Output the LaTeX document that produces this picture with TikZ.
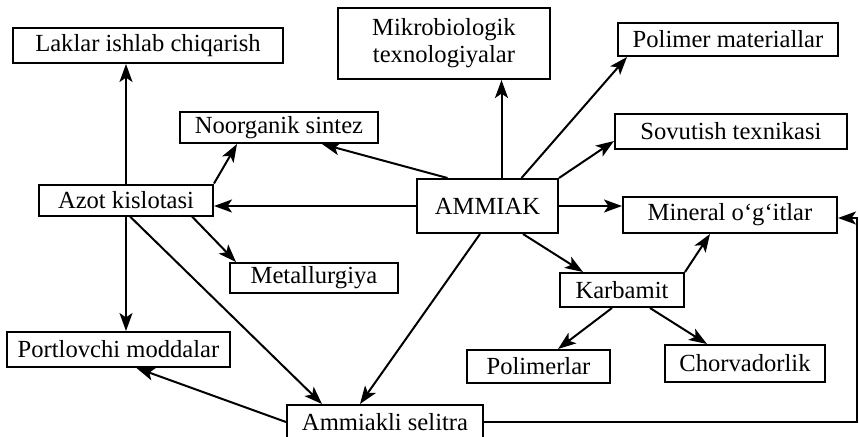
\documentclass[tikz,border=0pt]{standalone}
\usepackage{fontspec}
\setmainfont{Liberation Serif}
\usetikzlibrary{arrows.meta,positioning}

\begin{document}
\begin{tikzpicture}[x=0.5pt,y=-0.5pt,
    box/.style={draw,line width=1pt,inner sep=0pt,align=center,
      font=\fontsize{12.3}{13.5}\selectfont},
    arr/.style={-{Stealth[length=9pt,width=6.5pt,inset=2.2pt]},line width=1pt}]
    \useasboundingbox (0,0) rectangle (859,436);
    % boxes
    \node[box,minimum width=135pt,minimum height=17.5pt] (lak) at (148,45.5) {Laklar ishlab chiqarish};
    \node[box,minimum width=106pt,minimum height=35.5pt] (mikro) at (444,43.5) {Mikrobiologik\\texnologiyalar};
    \node[box,minimum width=110pt,minimum height=16.5pt] (polmat) at (728,39.5) {Polimer materiallar};
    \node[box,minimum width=116pt,minimum height=17.5pt] (sovut) at (731,131.5) {Sovutish texnikasi};
    \node[box,minimum width=99pt,minimum height=15.5pt] (noorg) at (279,127.5) {Noorganik sintez};
    \node[box,minimum width=87pt,minimum height=15.5pt] (azot) at (126,200) {Azot kislotasi};
    \node[box,minimum width=70.5pt,minimum height=27pt] (ammiak) at (487.5,206) {AMMIAK};
    \node[box,minimum width=107pt,minimum height=18pt] (mineral) at (730,215) {Mineral o‘g‘itlar};
    \node[box,minimum width=84pt,minimum height=15pt] (metall) at (314,278) {Metallurgiya};
    \node[box,minimum width=111.5pt,minimum height=17.5pt] (portl) at (118.5,349.5) {Portlovchi moddalar};
    \node[box,minimum width=98pt,minimum height=17pt] (selitra) at (385,422) {Ammiakli selitra};
    \node[box,minimum width=62pt,minimum height=17pt] (karb) at (622,290) {Karbamit};
    \node[box,minimum width=71.5pt,minimum height=16.5pt] (polim) at (538.5,366.5) {Polimerlar};
    \node[box,minimum width=80pt,minimum height=18.5pt] (chorv) at (745,363.5) {Chorvadorlik};
    \coordinate (loop) at (857,218);
    % from AMMIAK
    \draw[arr] ([xshift=7pt]ammiak.north) -- ([xshift=7pt]ammiak.north |- mikro.south);
    \draw[arr] ([xshift=17pt]ammiak.north) -- ([xshift=5pt]polmat.south west);
    \draw[arr] (ammiak.north east) -- ([yshift=4.5pt]sovut.south west);
    \draw[arr] ([xshift=-20pt]ammiak.north) -- ([xshift=21.5pt]noorg.south);
    \draw[arr] (ammiak.west) -- (ammiak.west -| azot.east);
    \draw[arr] (ammiak.east) -- (ammiak.east -| mineral.west);
    \draw[arr] ([xshift=17.75pt]ammiak.south) -- ([xshift=-19.5pt]karb.north);
    \draw[arr] ([xshift=-3.75pt]ammiak.south) -- ([xshift=-12.5pt]selitra.north);
    % from Azot kislotasi
    \draw[arr] (azot.north) -- (azot.north |- lak.south);
    \draw[arr] (azot.north east) -- ([xshift=29pt]noorg.south west);
    \draw[arr] ([xshift=33pt]azot.south) -- ([xshift=3.5pt]metall.north west);
    \draw[arr] (azot.south) -- (azot.south |- portl.north);
    \draw[arr] ([xshift=2pt]azot.south) -- ([xshift=-31.5pt]selitra.north);
    % from Ammiakli selitra
    \draw[arr] (selitra.west) -- ([xshift=9pt]portl.south);
    \draw[arr] (selitra.east) -| (loop) -- (mineral.east |- loop);
    % from Karbamit
    \draw[arr] (karb.north east) -- ([xshift=-10pt]mineral.south);
    \draw[arr] ([xshift=-5pt]karb.south) -- ([xshift=9.75pt]polim.north);
    \draw[arr] ([xshift=14pt]karb.south) -- ([xshift=-19pt]chorv.north);
\end{tikzpicture}
\end{document}
